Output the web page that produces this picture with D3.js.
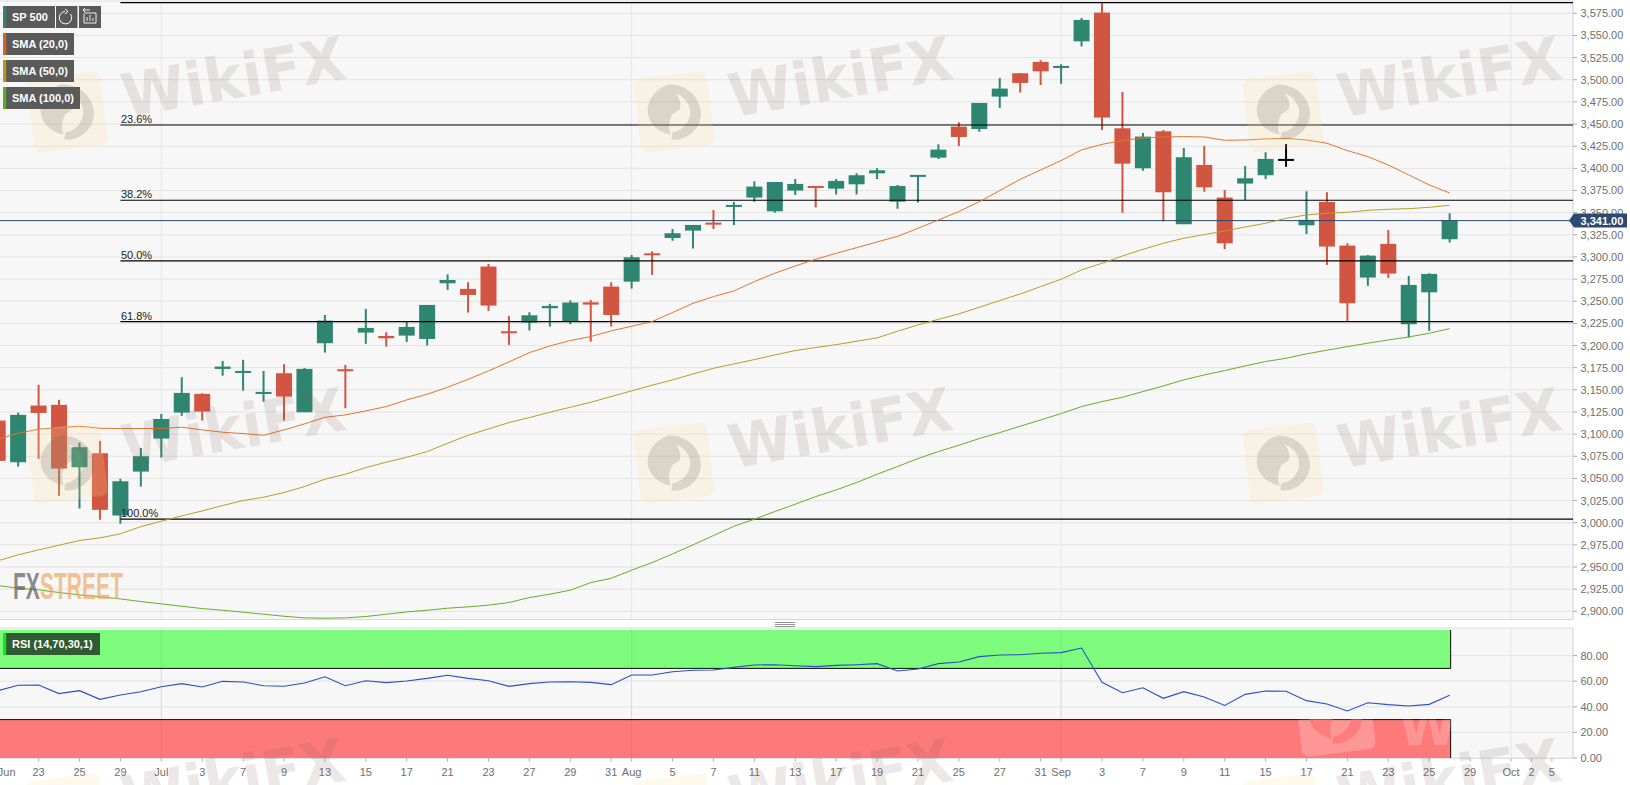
<!DOCTYPE html>
<html><head><meta charset="utf-8">
<script src="https://cdn.jsdelivr.net/npm/d3@7"></script>
<style>
html,body{margin:0;padding:0;background:#fff;overflow:hidden}
svg{display:block;font-family:"Liberation Sans",Arial,sans-serif}
</style></head><body>
<svg id="c" width="1630" height="785"></svg>
<script>
const days=["06-19","06-22","06-23","06-24","06-25","06-26","06-29","06-30","07-01","07-02","07-03","07-06","07-07","07-08","07-09","07-10","07-13","07-14","07-15","07-16","07-17","07-20","07-21","07-22","07-23","07-24","07-27","07-28","07-29","07-30","07-31","08-03","08-04","08-05","08-06","08-07","08-10","08-11","08-12","08-13","08-14","08-17","08-18","08-19","08-20","08-21","08-24","08-25","08-26","08-27","08-28","08-31","09-01","09-02","09-03","09-04","09-07","09-08","09-09","09-10","09-11","09-14","09-15","09-16","09-17","09-18","09-21","09-22","09-23","09-24","09-25","09-28","09-29","09-30","10-01","10-02","10-05"];
const tickDays=["06-23","06-25","06-29","07-01","07-03","07-07","07-09","07-13","07-15","07-17","07-21","07-23","07-27","07-29","07-31","08-03","08-05","08-07","08-11","08-13","08-17","08-19","08-21","08-25","08-27","08-31","09-01","09-03","09-07","09-09","09-11","09-15","09-17","09-21","09-23","09-25","09-29","10-01","10-02","10-05"];
const tickLabels=["23","25","29","Jul","3","7","9","13","15","17","21","23","27","29","31","Aug","5","7","11","13","17","19","21","25","27","31","Sep","3","7","9","11","15","17","21","23","25","29","Oct","2","5"];
const opens=[3115.3,3068.3,3132.2,3133,3062.6,3078.4,3008.1,3057.7,3095,3124.3,3145.4,3173.6,3169.4,3146.1,3168.7,3124.7,3202.6,3173.2,3214.6,3210.8,3211.2,3207.4,3270.3,3263.9,3289.1,3216.1,3225.9,3242.1,3227,3248.8,3266.5,3272.1,3304.1,3321.4,3329.7,3338.7,3357.2,3367,3351.5,3374.9,3380.1,3377.1,3382,3394.4,3362.4,3391.8,3412.1,3447.1,3444.4,3481,3507.3,3520.1,3513.3,3543.4,3575.8,3445.2,3400.1,3441.8,3336.9,3403.8,3367,3382.8,3392.2,3409.5,3335.7,3362.1,3312.8,3276.7,3314.7,3224,3260.1,3320];
const highs=[3118,3124.3,3155.5,3138.6,3090.5,3092.4,3049.5,3084.4,3122.8,3164.2,3146.1,3182.6,3183.8,3171.3,3178.9,3174.7,3234.5,3178.1,3241.3,3215,3227,3245.8,3280.4,3271.4,3292.1,3233.4,3237.5,3247,3251,3251.5,3271.4,3302.3,3306.4,3331.6,3336.1,3353,3362,3385.4,3384.6,3388,3380.1,3388,3394.4,3400,3381.3,3392.6,3427.1,3452,3473.8,3502,3507.3,3522,3517.4,3569.7,3586.3,3486.2,3439.9,3443.3,3423,3425.3,3375.6,3402.7,3418.1,3427.5,3374.1,3373,3315.4,3302.3,3330.5,3278.6,3281.6,3349.3];
const lows=[3068,3063.4,3072,3030.3,3016,3003.2,2998.7,3040.8,3073.5,3120.6,3115.3,3166,3149.1,3136.7,3115.3,3124.7,3192,3129.2,3201.8,3198.8,3204,3200,3262.8,3237.2,3239,3200.7,3216.9,3221.4,3224,3204.4,3221.4,3264.3,3279.7,3318.4,3309.4,3331.6,3336.1,3362.4,3350,3370,3355.7,3370.4,3370.4,3388,3354.5,3361.3,3410.6,3425.3,3441.4,3468.2,3485.5,3494.1,3495.6,3537.4,3443.3,3350,3397.4,3339.9,3336.9,3373.7,3309,3364.3,3388,3401.9,3326,3291,3227.8,3267.3,3276.3,3209,3216.5,3316.2];
const closes=[3069.8,3121.7,3123.9,3061.1,3085.2,3014.5,3046.8,3075,3117.1,3146.5,3125.4,3176.2,3171.3,3147.6,3142.4,3173.6,3228.1,3171.7,3219.9,3208.2,3221,3245.8,3274,3257.1,3245.1,3214.6,3234.1,3244.7,3248.5,3246.2,3234.5,3299.6,3302.3,3326.7,3336.1,3337.6,3358.7,3379.4,3384.6,3382.4,3379,3385.8,3392.2,3397.8,3380.1,3392.6,3421.1,3435.4,3473.8,3490,3496.4,3509.5,3515.6,3567.5,3457.3,3405.3,3435.8,3373,3412.5,3378.6,3315.4,3388.8,3410.6,3409.5,3341.8,3311.7,3247.7,3301.5,3281.2,3268.4,3280.8,3341.4];
const sma20=[3094.2,3101,3105.5,3107.4,3108.9,3106.6,3106.3,3106.3,3106.3,3107.8,3104.8,3102.1,3100.6,3098.7,3104.8,3111.5,3119,3121.7,3126.2,3131.1,3138.6,3145,3152.9,3161.9,3171.3,3181.5,3192,3199.5,3205.6,3210.1,3216.5,3221.8,3227,3237.2,3247.7,3255.2,3261.6,3272.1,3281.6,3289.8,3297.4,3304.1,3310.5,3316.9,3323.3,3332.3,3341.7,3351.2,3362.4,3374.9,3387.6,3398.2,3408.7,3420.8,3427.1,3431.3,3434.3,3435.4,3435.8,3435.4,3431.7,3432,3433.2,3433.9,3432,3428.3,3420,3413.2,3403.8,3392.6,3381.3,3372.2];
const sma50=[2956.9,2963.7,2969.3,2974.6,2979.9,2982.9,2987.4,2995.6,3001.7,3007.7,3013.3,3019.4,3025,3028.8,3034,3040.8,3049.1,3054.7,3062.2,3068.3,3073.9,3080.3,3089.7,3098.7,3105.9,3113,3118.7,3124.7,3130.3,3136,3142.4,3148.8,3155.2,3161.2,3167.9,3174.3,3179.2,3184.1,3189.4,3194.3,3197.7,3201,3204.8,3208.6,3216.1,3223.2,3229.6,3235.7,3243.2,3250.7,3258.2,3266.5,3274.8,3285.3,3292.8,3301.1,3308.6,3315.4,3321.1,3325.2,3329.3,3333.8,3338,3343.6,3347.4,3349.3,3350.4,3352.6,3353.8,3354.5,3356,3358.3];
const sma100=[2929.1,2926.1,2924.2,2921.2,2918.5,2916.3,2914,2911,2908.4,2905.7,2903.1,2901.2,2899,2896.7,2894.4,2892.6,2892.2,2892.6,2894.1,2896.7,2899.3,2901.2,2903.5,2905,2906.9,2909.9,2915.5,2919.3,2923.8,2932.4,2937.3,2946.4,2955,2964.8,2975,2985.5,2996,3003.9,3012.6,3020.9,3029.5,3037,3045.3,3054.7,3063.4,3072.4,3080.3,3087.4,3095,3101.7,3108.9,3116,3123.2,3131.1,3136.7,3141.6,3148,3154.4,3161.2,3166.8,3171.7,3177,3181.9,3185.6,3190.6,3194.7,3198.8,3202.6,3206.3,3209.7,3213.8,3219.1];
const rsi=[52.6,56.8,57,50.3,52.6,45.8,49.2,51.8,55.7,58.1,55.5,59.9,59.4,56.5,56,58.6,63.5,56.5,60.4,58.9,60.2,62.2,64.6,62.2,60.4,56,58.1,59.4,59.6,59.1,57.3,64.8,64.8,67.4,68.5,68.8,70.8,72.7,72.9,72.1,71.4,72.4,72.9,73.7,68,69.5,73.7,75,79.2,80.5,80.7,81.8,82.3,85.9,59.1,51,54.9,46.6,51.8,47.7,41.1,49.7,52.3,52.1,44.8,42.2,36.7,43.2,41.7,40.6,41.9,49];
const fibLevels=[3587,3449,3364,3295.5,3227,3004];
const fibLabels=["0.0%","23.6%","38.2%","50.0%","61.8%","100.0%"];
const priceTicks=d3.range(2900,3576,25);
const rsiTicks=[0,20,40,60,80];
const lastPrice=3341;
const monthStarts=["07-01","08-03","09-01","10-01"];

const W=1630,L=0,R=1573,T=1,B=619.5,RT=628,RB=758.5;
const green="#2e8570",red="#d25541";
const svg=d3.select("#c");
const defs=svg.append("defs");
defs.append("clipPath").attr("id","mainClip").append("rect").attr("x",0).attr("y",T).attr("width",R).attr("height",B-T);
defs.append("clipPath").attr("id","redClip").append("rect").attr("x",1200).attr("y",d3.scaleLinear().domain([0,100]).range([758,630])(30)).attr("width",251).attr("height",38.4);

const x=d3.scalePoint().domain(days).range([-2.3,1551.9]);
const y=d3.scaleLinear().domain([3575,2900]).range([13.3,611.3]);
const yr=d3.scaleLinear().domain([0,100]).range([758,630]);
const fmt=d3.format(",.2f");

// panels
svg.append("rect").attr("x",0).attr("y",T).attr("width",R).attr("height",B-T).attr("fill","#f7f7f7");
svg.append("rect").attr("x",0).attr("y",RT).attr("width",R).attr("height",RB-RT).attr("fill","#f7f7f7");
svg.append("line").attr("x1",0).attr("x2",R).attr("y1",T).attr("y2",T).attr("stroke","#ddd");
svg.append("line").attr("x1",0).attr("x2",R).attr("y1",B).attr("y2",B).attr("stroke","#d8d8d8").attr("stroke-width",1.2);
svg.append("line").attr("x1",0).attr("x2",R).attr("y1",RT).attr("y2",RT).attr("stroke","#dcdce4");
svg.append("line").attr("x1",0).attr("x2",R).attr("y1",RB).attr("y2",RB).attr("stroke","#d8d8e0");
svg.append("line").attr("x1",R).attr("x2",R).attr("y1",T).attr("y2",B).attr("stroke","#d0d0d8");
svg.append("line").attr("x1",R).attr("x2",R).attr("y1",RT).attr("y2",RB).attr("stroke","#d0d0d8");

// grids
svg.append("g").selectAll("line").data(priceTicks).join("line")
 .attr("x1",0).attr("x2",R).attr("y1",d=>y(d)).attr("y2",d=>y(d)).attr("stroke","#e3e3e3");
svg.append("g").selectAll("line").data(rsiTicks).join("line")
 .attr("x1",0).attr("x2",R).attr("y1",d=>yr(d)).attr("y2",d=>yr(d)).attr("stroke","#e3e3e3");
// month lines
[[T,B],[RT,RB]].forEach(([a,b])=>{
 svg.append("g").selectAll("line").data(monthStarts).join("line")
  .attr("x1",d=>x(d)).attr("x2",d=>x(d)).attr("y1",a).attr("y2",b).attr("stroke","#e6e6ea");
});

// RSI bands
const lastDay=days[opens.length-1], bandRight=x(lastDay)+1;
const bandG=svg.append("g");
bandG.append("rect").attr("x",0).attr("width",bandRight).attr("y",yr(100)).attr("height",yr(70)-yr(100)).attr("fill","#78fb78").attr("opacity",.97);
bandG.append("rect").attr("x",0).attr("width",bandRight).attr("y",yr(30)).attr("height",yr(0)-yr(30)).attr("fill","#fd7a7a");
[70,30].forEach(v=>bandG.append("line").attr("x1",0).attr("x2",bandRight).attr("y1",yr(v)).attr("y2",yr(v)).attr("stroke","#0a0a0a").attr("stroke-width",1));
bandG.append("line").attr("x1",bandRight).attr("x2",bandRight).attr("y1",yr(100)).attr("y2",yr(70)).attr("stroke","#0a0a0a");
bandG.append("line").attr("x1",bandRight).attr("x2",bandRight).attr("y1",yr(30)).attr("y2",yr(0)).attr("stroke","#0a0a0a");
bandG.append("g").selectAll("line").data(monthStarts.slice(0,3)).join("line")
  .attr("x1",d=>x(d)).attr("x2",d=>x(d)).attr("y1",yr(100)).attr("y2",yr(0)).attr("stroke","#000").attr("opacity",.05);

// candles
const candles=opens.map((o,i)=>({d:days[i],o,h:highs[i],l:lows[i],c:closes[i],
   col:o===closes[i]?"#000":(closes[i]>o?green:red)}));
const main=svg.append("g").attr("clip-path","url(#mainClip)");
main.append("g").selectAll("line").data(candles).join("line")
 .attr("x1",d=>x(d.d)).attr("x2",d=>x(d.d)).attr("y1",d=>y(d.h)).attr("y2",d=>y(d.l))
 .attr("stroke",d=>d.col).attr("stroke-width",2);
main.append("g").selectAll("rect").data(candles).join("rect")
 .attr("x",d=>x(d.d)-8).attr("width",16)
 .attr("y",d=>y(Math.max(d.o,d.c))-(d.o===d.c?1:0))
 .attr("height",d=>Math.max(2,Math.abs(y(d.o)-y(d.c))))
 .attr("fill",d=>d.col);

// fib lines
main.append("g").selectAll("line").data(fibLevels).join("line")
 .attr("x1",x("06-29")).attr("x2",R).attr("y1",d=>y(d)).attr("y2",d=>y(d)).attr("stroke","#000").attr("stroke-width",1.1);
main.append("g").selectAll("text").data(fibLevels).join("text")
 .attr("x",x("06-29")+.5).attr("y",d=>y(d)-2).attr("font-size",11).attr("fill","#222")
 .text((d,i)=>fibLabels[i]);
// price line
main.append("line").attr("x1",0).attr("x2",R).attr("y1",y(lastPrice)).attr("y2",y(lastPrice)).attr("stroke","#2d4a6e").attr("stroke-width",1);

// SMAs
const ln=d3.line().x((d,i)=>x(days[i])).y(d=>y(d));
[[sma20,"#e0762f"],[sma50,"#b59f28"],[sma100,"#66ad2a"]].forEach(([s,c])=>
 main.append("path").attr("d",ln(s)).attr("fill","none").attr("stroke",c).attr("stroke-width",1));

// RSI line
svg.append("path").attr("d",d3.line().x((d,i)=>x(days[i])).y(d=>yr(d))(rsi)).attr("fill","none").attr("stroke","#2a4fc6").attr("stroke-width",1.1);

// right axes
const axisCol="#6e6e6e";
const ay=svg.append("g");
ay.selectAll("line").data(priceTicks).join("line").attr("x1",R).attr("x2",R+4).attr("y1",d=>y(d)).attr("y2",d=>y(d)).attr("stroke","#aaa");
ay.selectAll("text").data(priceTicks).join("text").attr("x",R+7.5).attr("y",d=>y(d)+4).attr("font-size",11).attr("fill",axisCol).text(d=>fmt(d));
const ar=svg.append("g");
ar.selectAll("line").data(rsiTicks).join("line").attr("x1",R).attr("x2",R+4).attr("y1",d=>yr(d)).attr("y2",d=>yr(d)).attr("stroke","#aaa");
ar.selectAll("text").data(rsiTicks).join("text").attr("x",R+7.5).attr("y",d=>yr(d)+4).attr("font-size",11).attr("fill",axisCol).text(d=>fmt(d));

// bottom axis
const ax=svg.append("g");
ax.selectAll("line").data(tickDays).join("line").attr("x1",d=>x(d)).attr("x2",d=>x(d)).attr("y1",RB).attr("y2",RB+3).attr("stroke","#aaa");
ax.selectAll("text").data(tickDays).join("text").attr("x",d=>x(d)).attr("y",776).attr("text-anchor","middle").attr("font-size",11).attr("fill",axisCol).text((d,i)=>tickLabels[i]);
ax.append("text").attr("x",x("06-19")+9).attr("y",776).attr("text-anchor","middle").attr("font-size",11).attr("fill",axisCol).text("Jun");

// price tag
const py=y(lastPrice);
svg.append("path").attr("d",`M1569 ${py}L1574 ${py-7}H1627V${py+7}H1574Z`).attr("fill","#2d4a6e");
svg.append("text").attr("x",1580.5).attr("y",py+4).attr("font-size",11).attr("font-weight","bold").attr("fill","#fff").text(fmt(lastPrice));

// splitter
[622.5,624.5,626.5].forEach(v=>svg.append("line").attr("x1",775).attr("x2",795).attr("y1",v).attr("y2",v).attr("stroke","#777").attr("stroke-width",.8));

// watermark
const wm=svg.append("g");
function eagle(g,cx,cy,col,fc){
 const t=g.append("g").attr("transform",`translate(${cx},${cy}) rotate(-7)`);
 t.append("rect").attr("x",-37).attr("y",-37).attr("width",74).attr("height",74).attr("rx",7).attr("fill",col);
 t.append("path").attr("d","M-2 -28C18 -26 30 -8 26 8C22 22 8 30 -6 27L-4 20C6 20 15 12 16 2C17 -8 10 -16 4 -18C8 -12 8 -6 6 -2L-2 2C-6 8 -8 14 -6 22C-18 18 -27 8 -26 -4C-25 -16 -14 -26 -2 -28Z").attr("fill",fc);
}
[112,463,814].forEach((cy,r)=>[67,674,1283].forEach(cx=>{
 eagle(wm,cx,cy,"rgba(250,225,150,.2)","rgba(110,95,95,.2)");
 wm.append("text").attr("transform",`translate(${cx+170},${cy-14}) rotate(-10)`)
  .attr("text-anchor","middle").attr("font-family","'DejaVu Sans'").attr("font-weight","bold")
  .attr("font-size",60).attr("textLength",226).attr("lengthAdjust","spacingAndGlyphs")
  .attr("fill","rgba(125,95,95,.14)").text("WikiFX");
}));
// lighter ghost in the red band
const ghost=svg.append("g").attr("clip-path","url(#redClip)");
eagle(ghost,1335,716,"rgba(255,255,255,.22)","rgba(253,122,122,.9)");
ghost.append("text").attr("x",1398).attr("y",745).attr("font-family","'DejaVu Sans'").attr("font-weight","bold")
 .attr("font-size",54).attr("fill","rgba(255,255,255,.2)").text("W");

// FXSTREET
const fx=svg.append("text").attr("x",13).attr("y",599).attr("font-family","'Liberation Sans Narrow','Liberation Sans'").attr("font-weight","bold")
 .attr("font-size",37).attr("textLength",110).attr("lengthAdjust","spacingAndGlyphs");
fx.append("tspan").attr("fill","rgba(90,90,90,.7)").text("FX");
fx.append("tspan").attr("fill","rgba(238,170,100,.7)").text("STREET");

// chips
function chip(x0,y0,w,h,label,accent,bg){
 const g=svg.append("g");
 g.append("rect").attr("x",x0).attr("y",y0).attr("width",w).attr("height",h).attr("fill",bg||"#5a5a5a");
 g.append("rect").attr("x",x0).attr("y",y0).attr("width",3.2).attr("height",h).attr("fill",accent);
 g.append("text").attr("x",x0+9).attr("y",y0+15).attr("font-size",11).attr("font-weight","bold").attr("fill","#fff").text(label);
}
chip(3,6,52,22,"SP 500","#2e8570");
chip(3,33,71,22,"SMA (20,0)","#d9631e");
chip(3,60,71,22,"SMA (50,0)","#b49a16");
chip(3,87,77,22,"SMA (100,0)","#54b01e");
chip(3,633,97,22,"RSI (14,70,30,1)","#14e614","#2f5a32");
svg.append("rect").attr("x",56).attr("y",6).attr("width",21.5).attr("height",22).attr("fill","#5a5a5a");
svg.append("rect").attr("x",79).attr("y",6).attr("width",22).attr("height",22).attr("fill","#5a5a5a");
svg.append("path").attr("d","M70.5 14A6.2 6.2 0 1 1 65 11.5").attr("fill","none").attr("stroke","#fff").attr("stroke-width",1);
svg.append("path").attr("d","M65 9L68 11.5L65 14").attr("fill","none").attr("stroke","#fff").attr("stroke-width",1);
svg.append("path").attr("d","M84 13H96V23H84V14M87 21V17M90 21V15M93 21V18M83 10H90M85 8L83 10L85 12").attr("fill","none").attr("stroke","#fff").attr("stroke-width",.9);
</script>
</body></html>
